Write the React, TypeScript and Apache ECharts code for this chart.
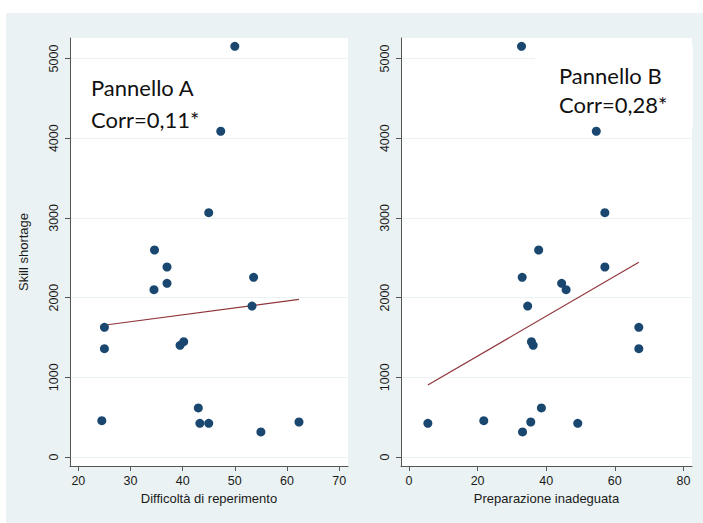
import React, { useEffect, useRef } from "react";
import * as echarts from "echarts";

// Shared y values (Skill shortage), one per territory
const skillShortage = [5153, 4087, 3065, 2597, 2384, 2254, 2179, 2099, 1894, 1627, 1359, 1447, 1401, 615, 456, 439, 422, 422, 314];
// Panel A x values: Difficoltà di reperimento
const difficolta = [50.0, 47.3, 45.0, 34.6, 37.0, 53.6, 37.0, 34.5, 53.3, 25.0, 25.0, 40.2, 39.5, 43.0, 24.5, 62.3, 43.3, 45.0, 55.0];
// Panel B x values: Preparazione inadeguata
const preparazione = [32.8, 54.6, 57.1, 37.8, 57.1, 33.0, 44.5, 45.8, 34.6, 67.0, 67.0, 35.7, 36.2, 38.6, 21.8, 35.5, 5.5, 49.2, 33.1];

// Fitted lines (endpoints)
const fitAx = [24.5, 62.3];
const fitAy = [1650, 1978];
const fitBx = [5.5, 67.0];
const fitBy = [903, 2443];

// Tick labels
const yTicks = [0, 1000, 2000, 3000, 4000, 5000];
const xTicksA = [20, 30, 40, 50, 60, 70];
const xTicksB = [0, 20, 40, 60, 80];

const NAVY = "#1a476f";
const MAROON = "#90353b";
const AXIS = "#555555";
const GRIDC = "#eaf2f3";
const LABEL = "#1a1a1a";
const ARIAL = "'Liberation Sans', Arial, sans-serif";

export default function App() {
  const ref = useRef<HTMLDivElement>(null);

  useEffect(() => {
    if (!ref.current) return;
    const chart = echarts.init(ref.current, undefined, { renderer: "svg" });

    const yAxisBase = (gridIndex: number, withName: boolean) => ({
      gridIndex,
      type: "value",
      min: -113,
      max: 5257,
      axisLine: { show: true, onZero: false, lineStyle: { color: AXIS, width: 1 } },
      axisTick: { show: true, length: 5, customValues: yTicks, lineStyle: { color: AXIS } },
      axisLabel: {
        customValues: yTicks,
        formatter: (v: number) => String(v),
        rotate: 90,
        margin: 10,
        fontSize: 12.5,
        fontFamily: ARIAL,
        color: LABEL,
      },
      splitLine: { show: true, lineStyle: { color: GRIDC, width: 1 } },
      name: withName ? "Skill shortage" : "",
      nameLocation: "middle",
      nameGap: 40,
      nameTextStyle: { fontSize: 13, fontFamily: ARIAL, color: LABEL },
    });

    const xAxisBase = (gridIndex: number, min: number, max: number, ticks: number[], name: string) => ({
      gridIndex,
      type: "value",
      min,
      max,
      axisLine: { show: true, onZero: false, lineStyle: { color: AXIS, width: 1 } },
      axisTick: { show: true, length: 5, customValues: ticks, lineStyle: { color: AXIS } },
      axisLabel: {
        customValues: ticks,
        formatter: (v: number) => String(v),
        margin: 8,
        fontSize: 12.5,
        fontFamily: ARIAL,
        color: LABEL,
      },
      splitLine: { show: false },
      name,
      nameLocation: "middle",
      nameGap: 20,
      nameTextStyle: { fontSize: 13, fontFamily: ARIAL, color: LABEL },
    });

    const txt = (x: number, y: number, text: string) => ({
      type: "text",
      x,
      y,
      style: { text, fontSize: 22, fontFamily: "Lato", fill: "#111", verticalAlign: "middle" },
      z: 2,
    });

    chart.setOption({
      animation: false,
      grid: [
        { left: 70, top: 38, width: 278, height: 428, show: true, backgroundColor: "#ffffff", borderWidth: 0 },
        { left: 401, top: 38, width: 291, height: 428, show: true, backgroundColor: "#ffffff", borderWidth: 0 },
      ],
      xAxis: [
        xAxisBase(0, 18.4, 71.7, xTicksA, "Difficoltà di reperimento"),
        xAxisBase(1, -2.33, 82.5, xTicksB, "Preparazione inadeguata"),
      ],
      yAxis: [yAxisBase(0, true), yAxisBase(1, false)],
      series: [
        {
          type: "line",
          xAxisIndex: 0,
          yAxisIndex: 0,
          data: fitAx.map((x, i) => [x, fitAy[i]]),
          symbol: "none",
          lineStyle: { color: MAROON, width: 1.2 },
          z: 3,
        },
        {
          type: "scatter",
          xAxisIndex: 0,
          yAxisIndex: 0,
          data: difficolta.map((x, i) => [x, skillShortage[i]]),
          symbolSize: 9,
          itemStyle: { color: NAVY, opacity: 1 },
          z: 4,
        },
        {
          type: "line",
          xAxisIndex: 1,
          yAxisIndex: 1,
          data: fitBx.map((x, i) => [x, fitBy[i]]),
          symbol: "none",
          lineStyle: { color: MAROON, width: 1.2 },
          z: 3,
        },
        {
          type: "scatter",
          xAxisIndex: 1,
          yAxisIndex: 1,
          data: preparazione.map((x, i) => [x, skillShortage[i]]),
          symbolSize: 9,
          itemStyle: { color: NAVY, opacity: 1 },
          z: 4,
        },
      ],
      graphic: [
        {
          type: "rect",
          shape: { x: 535, y: 45, width: 158, height: 82 },
          style: { fill: "#ffffff" },
          z: 1,
        },
        txt(91, 87, "Pannello A"),
        txt(91, 119, "Corr=0,11*"),
        txt(559, 75.5, "Pannello B"),
        txt(559, 104.5, "Corr=0,28*"),
      ],
    });

    return () => chart.dispose();
  }, []);

  return (
    <div style={{ position: "fixed", left: 0, top: 0, width: 703, height: 523, background: "#ffffff" }}>
      <div style={{ position: "absolute", left: 6, top: 13, width: 697, height: 510, background: "#eaf2f3" }} />
      <div ref={ref} style={{ position: "absolute", left: 0, top: 0, width: 703, height: 523 }} />
    </div>
  );
}
